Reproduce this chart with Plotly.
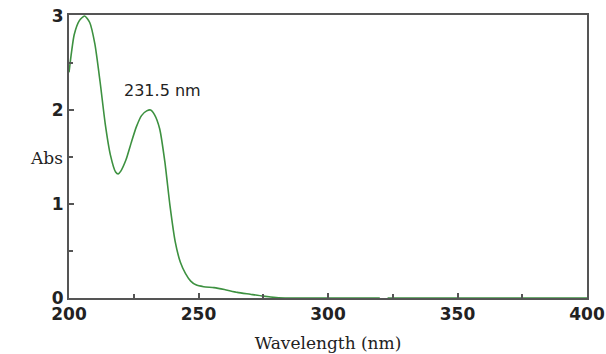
import plotly.graph_objects as go

# UV absorption spectrum
wavelength = [200, 201, 202, 204, 206, 208, 210, 212, 214, 216, 218, 219, 220, 222,
              224, 226, 228, 230, 231.5, 233, 235, 237, 239, 241, 243, 245, 247, 249,
              252, 256, 260, 265, 270, 275, 280, 285, 300, 320, 321, 323, 340, 360,
              380, 400]
absorbance = [2.40, 2.62, 2.80, 2.95, 3.00, 2.93, 2.70, 2.30, 1.85, 1.52, 1.34, 1.32,
              1.35, 1.47, 1.65, 1.82, 1.94, 1.99, 2.00, 1.95, 1.80, 1.45, 0.98, 0.60,
              0.38, 0.26, 0.18, 0.14, 0.12, 0.11, 0.09, 0.06, 0.04, 0.02, 0.005, 0.0,
              0.0, 0.0, None, 0.0, 0.0, 0.0, 0.0, 0.0]

peak_nm = 231.5
x_ticks = [200, 250, 300, 350, 400]
y_ticks = [0, 1, 2, 3]

fig = go.Figure()
fig.add_trace(go.Scatter(
    x=wavelength, y=absorbance, mode="lines",
    line=dict(color="#3d9140", width=1.6, shape="spline", smoothing=0.6),
    connectgaps=False, hoverinfo="skip", showlegend=False,
))

fig.add_annotation(
    x=236, y=2.21, xref="x", yref="y", text=f"{peak_nm} nm", showarrow=False,
    font=dict(family="DejaVu Sans", size=16, color="#222222"),
)
fig.add_annotation(
    x=-0.080, y=0.495, xref="paper", yref="paper", text="Abs", showarrow=False,
    font=dict(family="DejaVu Serif", size=17, color="#222222"),
)

axis_common = dict(
    showline=True, linecolor="#555555", linewidth=2, mirror=True,
    ticks="inside", ticklen=5, tickwidth=1.5, tickcolor="#555555",
    showgrid=False, zeroline=False, automargin=False,
    tickfont=dict(family="DejaVu Sans", size=17, color="#222222", weight="bold"),
)

fig.update_xaxes(
    range=[200, 400], tickvals=x_ticks,
    minor=dict(dtick=25, ticks="inside", ticklen=4, tickcolor="#555555"),
    title=dict(text="Wavelength (nm)", standoff=14,
               font=dict(family="DejaVu Serif", size=17, color="#222222")),
    **axis_common,
)
fig.update_yaxes(
    range=[0, 3.01], tickvals=y_ticks,
    minor=dict(dtick=0.5, ticks="inside", ticklen=4, tickcolor="#555555"),
    **axis_common,
)

fig.update_layout(
    width=606, height=354,
    margin=dict(l=69, r=19, t=15, b=56),
    paper_bgcolor="white", plot_bgcolor="white",
)

fig.write_html("out.html")
